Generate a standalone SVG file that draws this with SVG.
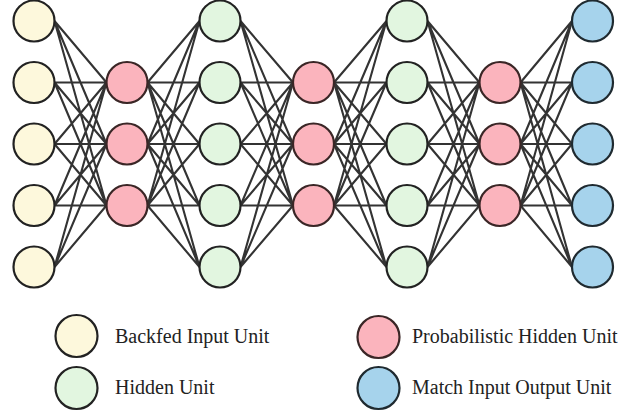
<svg xmlns="http://www.w3.org/2000/svg" width="624" height="419" viewBox="0 0 624 419">
  <defs>
    <style>
      .edge { stroke: #333; stroke-width: 2.1; fill: none; }
      .node { stroke: #222; stroke-width: 2.2; }
      .in { fill: #fdf8dc; }
      .hid { fill: #e2f6e0; }
      .prob { fill: #fbb4bd; stroke: #3a2626; }
      .out { fill: #a6d3ec; stroke: #1f2a30; }
      .label { font-family: "Liberation Serif", "Times New Roman", serif; font-size: 20px; fill: #222; }
    </style>
  </defs>
  <rect width="624" height="419" fill="#fff"/>

  <!-- fully connected edges between adjacent layers -->
  <g id="connectors" class="edge">
    <!-- layer 1 (x=34, 5 units) to layer 2 (x=127, 3 units) -->
    <path d="M54.5 21L106.5 82.5M54.5 21L106.5 144M54.5 21L106.5 205.5
             M54.5 82.5L106.5 82.5M54.5 82.5L106.5 144M54.5 82.5L106.5 205.5
             M54.5 144L106.5 82.5M54.5 144L106.5 144M54.5 144L106.5 205.5
             M54.5 205.5L106.5 82.5M54.5 205.5L106.5 144M54.5 205.5L106.5 205.5
             M54.5 267L106.5 82.5M54.5 267L106.5 144M54.5 267L106.5 205.5"/>
    <!-- layer 2 to layer 3 (x=220, 5 units) -->
    <path d="M147.5 82.5L199.5 21M147.5 82.5L199.5 82.5M147.5 82.5L199.5 144M147.5 82.5L199.5 205.5M147.5 82.5L199.5 267
             M147.5 144L199.5 21M147.5 144L199.5 82.5M147.5 144L199.5 144M147.5 144L199.5 205.5M147.5 144L199.5 267
             M147.5 205.5L199.5 21M147.5 205.5L199.5 82.5M147.5 205.5L199.5 144M147.5 205.5L199.5 205.5M147.5 205.5L199.5 267"/>
    <!-- layer 3 to layer 4 (x=313.5, 3 units) -->
    <path d="M240.5 21L293 82.5M240.5 21L293 144M240.5 21L293 205.5
             M240.5 82.5L293 82.5M240.5 82.5L293 144M240.5 82.5L293 205.5
             M240.5 144L293 82.5M240.5 144L293 144M240.5 144L293 205.5
             M240.5 205.5L293 82.5M240.5 205.5L293 144M240.5 205.5L293 205.5
             M240.5 267L293 82.5M240.5 267L293 144M240.5 267L293 205.5"/>
    <!-- layer 4 to layer 5 (x=407, 5 units) -->
    <path d="M334 82.5L386.5 21M334 82.5L386.5 82.5M334 82.5L386.5 144M334 82.5L386.5 205.5M334 82.5L386.5 267
             M334 144L386.5 21M334 144L386.5 82.5M334 144L386.5 144M334 144L386.5 205.5M334 144L386.5 267
             M334 205.5L386.5 21M334 205.5L386.5 82.5M334 205.5L386.5 144M334 205.5L386.5 205.5M334 205.5L386.5 267"/>
    <!-- layer 5 to layer 6 (x=500, 3 units) -->
    <path d="M427.5 21L479.5 82.5M427.5 21L479.5 144M427.5 21L479.5 205.5
             M427.5 82.5L479.5 82.5M427.5 82.5L479.5 144M427.5 82.5L479.5 205.5
             M427.5 144L479.5 82.5M427.5 144L479.5 144M427.5 144L479.5 205.5
             M427.5 205.5L479.5 82.5M427.5 205.5L479.5 144M427.5 205.5L479.5 205.5
             M427.5 267L479.5 82.5M427.5 267L479.5 144M427.5 267L479.5 205.5"/>
    <!-- layer 6 to layer 7 (x=592.5, 5 units) -->
    <path d="M520.5 82.5L572 21M520.5 82.5L572 82.5M520.5 82.5L572 144M520.5 82.5L572 205.5M520.5 82.5L572 267
             M520.5 144L572 21M520.5 144L572 82.5M520.5 144L572 144M520.5 144L572 205.5M520.5 144L572 267
             M520.5 205.5L572 21M520.5 205.5L572 82.5M520.5 205.5L572 144M520.5 205.5L572 205.5M520.5 205.5L572 267"/>
  </g>

  <!-- layer 1: backfed input units -->
  <g id="in1"><circle class="node in" cx="34" cy="21" r="20.5"/></g>
  <g id="in2"><circle class="node in" cx="34" cy="82.5" r="20.5"/></g>
  <g id="in3"><circle class="node in" cx="34" cy="144" r="20.5"/></g>
  <g id="in4"><circle class="node in" cx="34" cy="205.5" r="20.5"/></g>
  <g id="in5"><circle class="node in" cx="34" cy="267" r="20.5"/></g>

  <!-- layer 2: probabilistic hidden units -->
  <g id="p1a"><circle class="node prob" cx="127" cy="82.5" r="20.5"/></g>
  <g id="p1b"><circle class="node prob" cx="127" cy="144" r="20.5"/></g>
  <g id="p1c"><circle class="node prob" cx="127" cy="205.5" r="20.5"/></g>

  <!-- layer 3: hidden units -->
  <g id="h1a"><circle class="node hid" cx="220" cy="21" r="20.5"/></g>
  <g id="h1b"><circle class="node hid" cx="220" cy="82.5" r="20.5"/></g>
  <g id="h1c"><circle class="node hid" cx="220" cy="144" r="20.5"/></g>
  <g id="h1d"><circle class="node hid" cx="220" cy="205.5" r="20.5"/></g>
  <g id="h1e"><circle class="node hid" cx="220" cy="267" r="20.5"/></g>

  <!-- layer 4: probabilistic hidden units -->
  <g id="p2a"><circle class="node prob" cx="313.5" cy="82.5" r="20.5"/></g>
  <g id="p2b"><circle class="node prob" cx="313.5" cy="144" r="20.5"/></g>
  <g id="p2c"><circle class="node prob" cx="313.5" cy="205.5" r="20.5"/></g>

  <!-- layer 5: hidden units -->
  <g id="h2a"><circle class="node hid" cx="407" cy="21" r="20.5"/></g>
  <g id="h2b"><circle class="node hid" cx="407" cy="82.5" r="20.5"/></g>
  <g id="h2c"><circle class="node hid" cx="407" cy="144" r="20.5"/></g>
  <g id="h2d"><circle class="node hid" cx="407" cy="205.5" r="20.5"/></g>
  <g id="h2e"><circle class="node hid" cx="407" cy="267" r="20.5"/></g>

  <!-- layer 6: probabilistic hidden units -->
  <g id="p3a"><circle class="node prob" cx="500" cy="82.5" r="20.5"/></g>
  <g id="p3b"><circle class="node prob" cx="500" cy="144" r="20.5"/></g>
  <g id="p3c"><circle class="node prob" cx="500" cy="205.5" r="20.5"/></g>

  <!-- layer 7: match input output units -->
  <g id="out1"><circle class="node out" cx="592.5" cy="21" r="20.5"/></g>
  <g id="out2"><circle class="node out" cx="592.5" cy="82.5" r="20.5"/></g>
  <g id="out3"><circle class="node out" cx="592.5" cy="144" r="20.5"/></g>
  <g id="out4"><circle class="node out" cx="592.5" cy="205.5" r="20.5"/></g>
  <g id="out5"><circle class="node out" cx="592.5" cy="267" r="20.5"/></g>

  <!-- legend -->
  <g id="legend-backfed">
    <circle class="node in" cx="76.5" cy="336" r="21"/>
    <text class="label" x="115" y="343">Backfed Input Unit</text>
  </g>
  <g id="legend-hidden">
    <circle class="node hid" cx="76.5" cy="388" r="21"/>
    <text class="label" x="115" y="394">Hidden Unit</text>
  </g>
  <g id="legend-prob">
    <circle class="node prob" cx="378.5" cy="337" r="21"/>
    <text class="label" x="412" y="343">Probabilistic Hidden Unit</text>
  </g>
  <g id="legend-match">
    <circle class="node out" cx="378.5" cy="388" r="21"/>
    <text class="label" x="412" y="394">Match Input Output Unit</text>
  </g>
</svg>
